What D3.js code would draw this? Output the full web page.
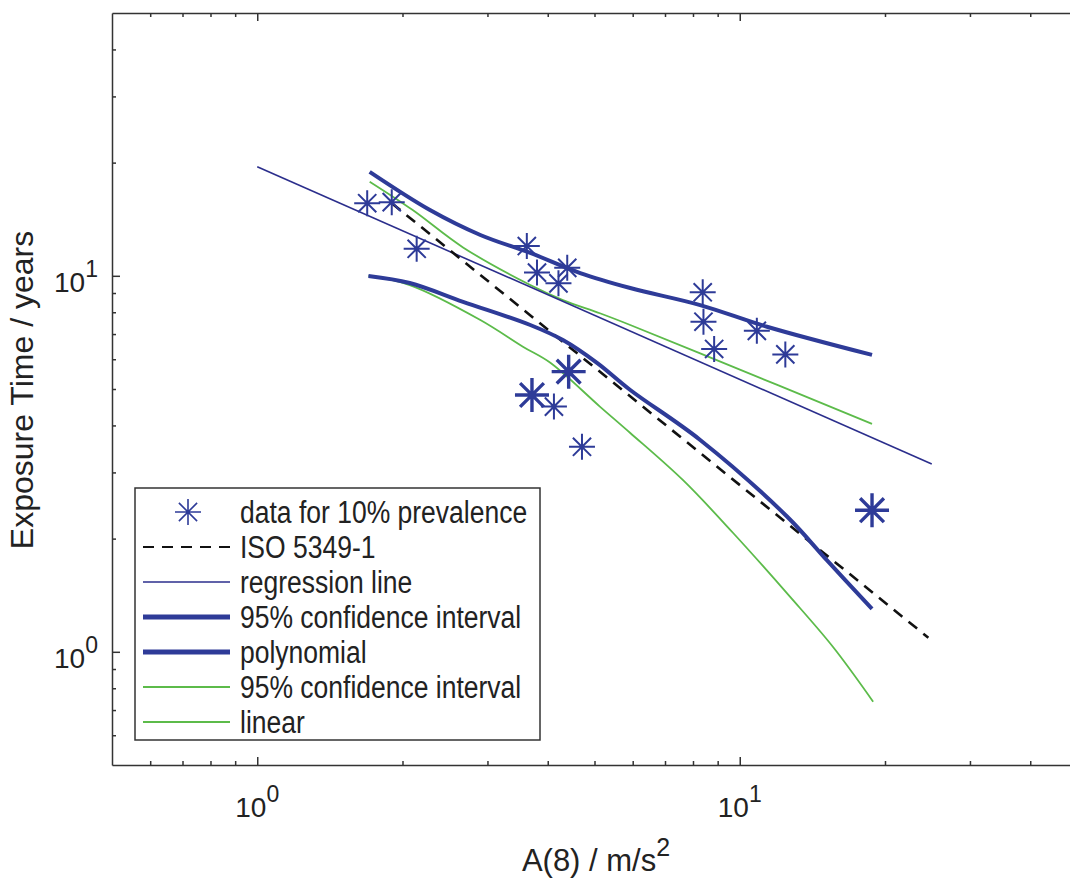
<!DOCTYPE html>
<html>
<head>
<meta charset="utf-8">
<script src="https://cdn.jsdelivr.net/npm/d3@7"></script>
<style>
  body { margin: 0; background: #fff; }
  svg { display: block; font-family: "Liberation Sans", Arial, sans-serif; }
</style>
</head>
<body>
<svg id="chart" width="1070" height="878"></svg>
<script>
// data (A(8) in m/s^2, exposure time in years)
const starA8    = [1.69, 1.90, 2.14, 3.62, 3.80, 4.39, 4.21, 4.12, 4.71, 8.38, 8.41, 8.85, 10.85, 12.43];
const starYears = [15.6, 15.7, 11.8, 12.0, 10.2, 10.5, 9.55, 4.49, 3.51, 9.04, 7.55, 6.39, 7.14, 6.18];
// points drawn heavier (overlapping values)
const boldA8    = [4.42, 3.71, 18.8];
const boldYears = [5.56, 4.82, 2.38];

const isoLine        = [[1.9, 15.6], [24.6, 1.09]];
const regressionLine = [[1.0, 19.5], [25.0, 3.16]];
const thickUpper = [[1.71, 18.9], [2.28, 14.96], [2.90, 12.84], [3.68, 11.5], [4.67, 10.17],
                    [5.93, 9.28], [8.28, 8.36], [11.39, 7.32], [18.8, 6.16]];
const thickLower = [[1.70, 9.99], [2.07, 9.57], [2.67, 8.53], [3.68, 7.40], [4.30, 6.75],
                    [5.06, 5.87], [5.93, 4.97], [8.28, 3.66], [12.53, 2.29], [15.17, 1.75], [18.8, 1.30]];
const greenUpper = [[1.71, 17.8], [2.10, 14.96], [2.67, 11.9], [3.68, 9.45], [4.30, 8.62],
                    [5.13, 7.95], [5.93, 7.40], [8.28, 6.22], [18.8, 4.04]];
const greenLower = [[1.70, 9.99], [2.07, 9.45], [2.90, 7.63], [3.56, 6.47], [4.05, 5.87],
                    [5.13, 4.49], [5.93, 3.82], [7.63, 2.86], [9.69, 2.07], [12.72, 1.40],
                    [15.61, 1.03], [18.9, 0.737]];

const legendLabels = ["data for 10% prevalence", "ISO 5349-1", "regression line",
  "95% confidence interval", "polynomial", "95% confidence interval", "linear"];
const majorTicks = [1, 10];
const tickExp = ["0", "1"];

const navy = "#2e3b98", navyThin = "#2b2e8c", green = "#5cbb4a", axisCol = "#333";

const svg = d3.select("#chart");
const x = d3.scaleLog().domain([0.5, 50]).range([112, 1077]);
const y = d3.scaleLog().domain([0.5, 50]).range([765, 13]);

const minorX = x.ticks().filter(v => !majorTicks.includes(v) && v > 0.5 && v < 50);
const minorY = y.ticks().filter(v => !majorTicks.includes(v) && v > 0.5 && v < 50);

svg.append("clipPath").attr("id", "clip")
  .append("rect").attr("x", 112).attr("y", 13).attr("width", 965).attr("height", 752);

// axes box with inward ticks
function styleAxis(g) {
  g.selectAll("path, line").attr("stroke", axisCol).attr("stroke-width", 1.5);
}
svg.append("g").attr("transform", "translate(0,765)")
  .call(d3.axisBottom(x).tickValues(majorTicks).tickSize(-8).tickSizeOuter(0).tickFormat(""))
  .call(styleAxis);
svg.append("g").attr("transform", "translate(0,765)")
  .call(d3.axisBottom(x).tickValues(minorX).tickSize(-4).tickSizeOuter(0).tickFormat(""))
  .call(g => g.select(".domain").remove()).call(styleAxis);
svg.append("g").attr("transform", "translate(0,13)")
  .call(d3.axisTop(x).tickValues(majorTicks).tickSize(-8).tickSizeOuter(0).tickFormat(""))
  .call(styleAxis);
svg.append("g").attr("transform", "translate(0,13)")
  .call(d3.axisTop(x).tickValues(minorX).tickSize(-4).tickSizeOuter(0).tickFormat(""))
  .call(g => g.select(".domain").remove()).call(styleAxis);
svg.append("g").attr("transform", "translate(112,0)")
  .call(d3.axisLeft(y).tickValues(majorTicks).tickSize(-8).tickSizeOuter(0).tickFormat(""))
  .call(styleAxis);
svg.append("g").attr("transform", "translate(112,0)")
  .call(d3.axisLeft(y).tickValues(minorY).tickSize(-4).tickSizeOuter(0).tickFormat(""))
  .call(g => g.select(".domain").remove()).call(styleAxis);

// tick labels 10^n
majorTicks.forEach((v, i) => {
  const tx = svg.append("text").attr("x", x(v)).attr("y", 817)
    .attr("text-anchor", "middle").attr("font-size", 28).attr("fill", "#222");
  tx.append("tspan").text("10");
  tx.append("tspan").attr("dy", -15).attr("font-size", 23).text(tickExp[i]);
  const ty = svg.append("text").attr("x", 98).attr("y", y(v) + 16)
    .attr("text-anchor", "end").attr("font-size", 28).attr("fill", "#222");
  ty.append("tspan").text("10");
  ty.append("tspan").attr("dy", -15).attr("font-size", 23).text(tickExp[i]);
});

// axis titles
const xt = svg.append("text").attr("x", 596).attr("y", 871)
  .attr("text-anchor", "middle").attr("font-size", 31).attr("fill", "#222");
xt.append("tspan").text("A(8) / m/s");
xt.append("tspan").attr("dy", -15).attr("font-size", 25).text("2");
svg.append("text").attr("transform", "translate(33,390) rotate(-90)")
  .attr("text-anchor", "middle").attr("font-size", 32).attr("fill", "#222")
  .text("Exposure Time / years");

// lines
const plot = svg.append("g").attr("clip-path", "url(#clip)");
const straight = d3.line().x(d => x(d[0])).y(d => y(d[1]));
const smooth = d3.line().x(d => x(d[0])).y(d => y(d[1])).curve(d3.curveCatmullRom.alpha(0.5));

plot.append("path").attr("d", smooth(greenUpper)).attr("fill", "none").attr("stroke", green).attr("stroke-width", 1.8);
plot.append("path").attr("d", smooth(greenLower)).attr("fill", "none").attr("stroke", green).attr("stroke-width", 1.8);
plot.append("path").attr("d", straight(regressionLine)).attr("fill", "none").attr("stroke", navyThin).attr("stroke-width", 1.6);
plot.append("path").attr("d", straight(isoLine)).attr("fill", "none").attr("stroke", "#111")
  .attr("stroke-width", 2.6).attr("stroke-dasharray", "11,8");
plot.append("path").attr("d", smooth(thickUpper)).attr("fill", "none").attr("stroke", navy).attr("stroke-width", 4);
plot.append("path").attr("d", smooth(thickLower)).attr("fill", "none").attr("stroke", navy).attr("stroke-width", 4);

// asterisk markers
function starPath(r) {
  const d = r * 0.7;
  return `M${-r},0L${r},0M0,${-r}L0,${r}M${-d},${-d}L${d},${d}M${-d},${d}L${d},${-d}`;
}
plot.selectAll(".star").data(d3.zip(starA8, starYears)).enter().append("path")
  .attr("class", "star")
  .attr("transform", d => `translate(${x(d[0])},${y(d[1])})`)
  .attr("d", starPath(13)).attr("stroke", navy).attr("stroke-width", 2).attr("fill", "none");
plot.selectAll(".bstar").data(d3.zip(boldA8, boldYears)).enter().append("path")
  .attr("class", "bstar")
  .attr("transform", d => `translate(${x(d[0])},${y(d[1])})`)
  .attr("d", starPath(17)).attr("stroke", navy).attr("stroke-width", 3.4).attr("fill", "none");

// legend
const lg = svg.append("g");
lg.append("rect").attr("x", 135).attr("y", 488).attr("width", 405).attr("height", 252)
  .attr("fill", "#fff").attr("stroke", axisCol).attr("stroke-width", 1.5);
const rowY = i => 512 + i * 35;
const legendStyle = [
  null,
  { stroke: "#111", w: 2, dash: "11,8" },
  { stroke: navyThin, w: 1.6 },
  { stroke: navy, w: 5 },
  { stroke: navy, w: 5 },
  { stroke: green, w: 2 },
  { stroke: green, w: 2 }
];
legendLabels.forEach((lab, i) => {
  const s = legendStyle[i];
  if (s) {
    lg.append("line").attr("x1", 143).attr("x2", 230).attr("y1", rowY(i)).attr("y2", rowY(i))
      .attr("stroke", s.stroke).attr("stroke-width", s.w).attr("stroke-dasharray", s.dash || null);
  } else {
    lg.append("path").attr("transform", `translate(188,${rowY(i)})`).attr("d", starPath(13))
      .attr("stroke", navy).attr("stroke-width", 1.6).attr("fill", "none");
  }
  lg.append("text").attr("transform", `translate(240,${rowY(i) + 11}) scale(1,1.18)`)
    .attr("font-size", 26.5).attr("fill", "#222").text(lab);
});
</script>
</body>
</html>
